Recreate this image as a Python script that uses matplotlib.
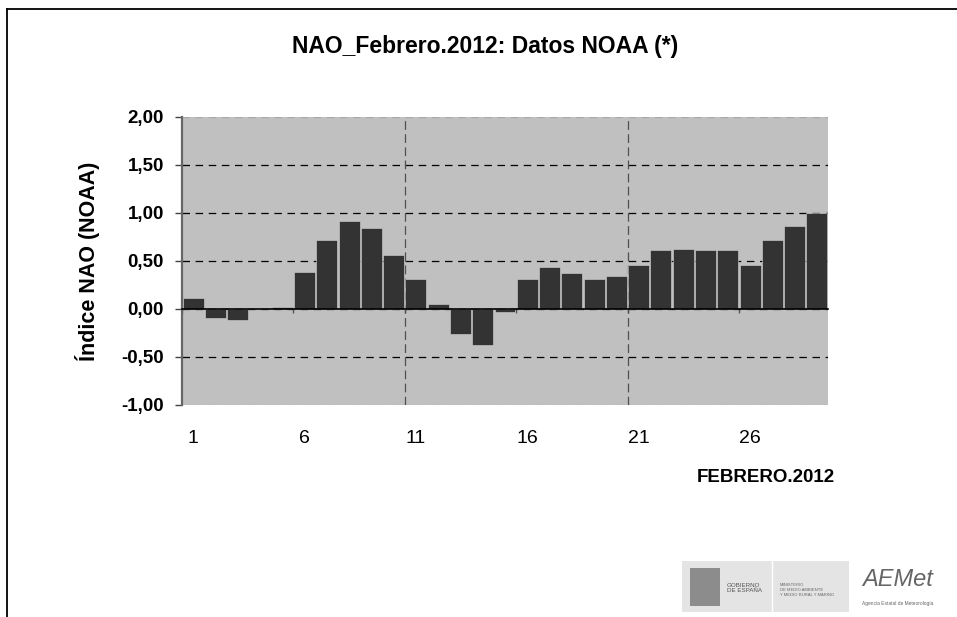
import matplotlib
matplotlib.use("Agg")
import matplotlib.pyplot as plt
from matplotlib.lines import Line2D
from matplotlib.patches import Rectangle

plt.rcParams["font.family"] = ["Liberation Sans", "DejaVu Sans"]

# daily NAO index, February 2012 (NOAA)
days = list(range(1, 30))
nao_values = [0.11, -0.09, -0.11, 0.00, 0.02, 0.39, 0.72, 0.92, 0.84, 0.56,
              0.31, 0.05, -0.26, -0.38, -0.03, 0.31, 0.44, 0.38, 0.31, 0.34,
              0.46, 0.61, 0.63, 0.61, 0.61, 0.46, 0.72, 0.86, 1.00]
label_days = [1, 6, 11, 16, 21, 26]
grid_days = [11, 21]
y_ticks = [-1.0, -0.5, 0.0, 0.5, 1.0, 1.5, 2.0]

W, H = 957, 617
fig = plt.figure(figsize=(W / 100, H / 100), dpi=100)
fig.patch.set_facecolor("white")

ax = fig.add_axes([182 / W, 1 - 405 / H, (828 - 182) / W, (405 - 117) / H])
ax.set_facecolor("#c0c0c0")
ax.set_axisbelow(True)

ax.bar(days, nao_values, width=0.94, color="#333333",
       edgecolor="#d4d4d4", linewidth=0.4, zorder=3)

ax.set_xlim(0.5, len(days) + 0.5)
ax.set_ylim(y_ticks[0], y_ticks[-1])

# y axis
ax.set_yticks(y_ticks, labels=[f"{v:.2f}".replace(".", ",") for v in y_ticks],
              fontweight="bold")
ax.tick_params(axis="y", labelsize=13.5, length=5, width=1, pad=8, color="#444444")
ax.yaxis.grid(True, color="black", linestyle=(0, (6, 4.5)), linewidth=0.9)
ygl = ax.get_ygridlines()
ygl[0].set_color("#a8a8a8")
ygl[-1].set_color("#a8a8a8")

# category axis crossing at zero, ticks every 5 categories
ax.spines["bottom"].set_position(("data", 0))
ax.spines["bottom"].set_color("black")
ax.spines["bottom"].set_linewidth(1.2)
ax.spines["bottom"].set_zorder(4)
ax.set_xticks([d - 0.5 for d in label_days], labels=[])
ax.tick_params(axis="x", length=3, width=1, color="#555555", direction="out")
for s in ["top", "right"]:
    ax.spines[s].set_visible(False)
ax.spines["left"].set_color("#666666")
ax.spines["left"].set_linewidth(1.6)

for d in grid_days:
    ax.axvline(d - 0.5, color="#505050", linestyle=(0, (7, 3.5)), linewidth=0.9, zorder=1)

# day labels at the bottom of the plot area
sec = ax.secondary_xaxis("bottom")
sec.set_xticks(label_days, labels=[str(d) for d in label_days])
sec.tick_params(length=0, pad=18, labelsize=14)
sec.spines["bottom"].set_visible(False)

fig.text(485 / W, 1 - 47 / H, "NAO_Febrero.2012: Datos NOAA (*)",
         ha="center", va="center", fontsize=16.5, fontweight="bold")
fig.text(88 / W, 1 - 261 / H, "Índice NAO (NOAA)", rotation=90,
         ha="center", va="center", fontsize=15.5, fontweight="bold")
fig.text(766 / W, 1 - 477 / H, "FEBRERO.2012",
         ha="center", va="center", fontsize=13.5, fontweight="bold")

# chart frame (left and top edges only)
fig.add_artist(Line2D([7 / W, 7 / W], [0, 1 - 9 / H], transform=fig.transFigure,
                      color="black", linewidth=1.3))
fig.add_artist(Line2D([7 / W, 1], [1 - 9 / H, 1 - 9 / H], transform=fig.transFigure,
                      color="black", linewidth=1.3))

# logos, approximated with text
fig.add_artist(Rectangle((682 / W, 1 - 612 / H), 167 / W, 51 / H,
                         transform=fig.transFigure, facecolor="#e4e4e4", edgecolor="none"))
fig.add_artist(Line2D([772 / W, 772 / W], [1 - 612 / H, 1 - 561 / H],
                      transform=fig.transFigure, color="white", linewidth=1))
fig.add_artist(Rectangle((690 / W, 1 - 606 / H), 30 / W, 38 / H,
                         transform=fig.transFigure, facecolor="#8c8c8c", edgecolor="none"))
fig.text(727 / W, 1 - 588 / H, "GOBIERNO\nDE ESPAÑA", ha="left", va="center",
         fontsize=4.5, color="#555555", linespacing=1.1)
fig.text(780 / W, 1 - 590 / H, "MINISTERIO\nDE MEDIO AMBIENTE\nY MEDIO RURAL Y MARINO",
         ha="left", va="center", fontsize=3, color="#666666", linespacing=1.2)
fig.text(898 / W, 1 - 580 / H, "AEMet", ha="center", va="center",
         fontsize=17, style="italic", color="#666666")
fig.text(898 / W, 1 - 604 / H, "Agencia Estatal de Meteorología", ha="center",
         va="center", fontsize=3.5, color="#666666")

fig.savefig("out.png", dpi=100)
